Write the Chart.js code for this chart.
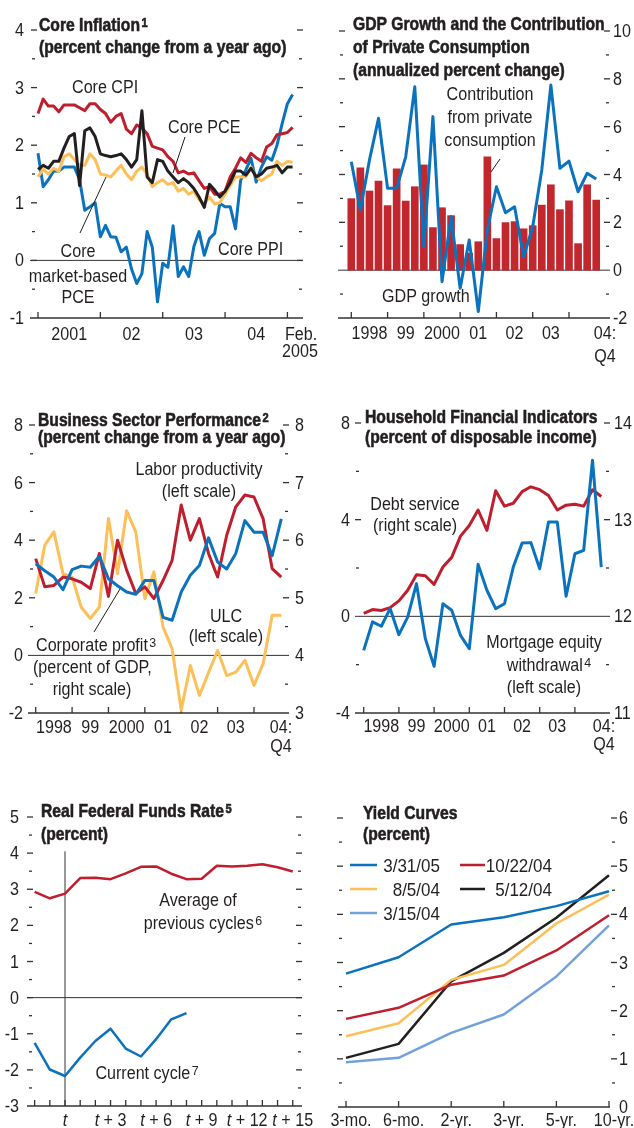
<!DOCTYPE html>
<html>
<head>
<meta charset="utf-8">
<script src="https://cdn.jsdelivr.net/npm/chart.js@4.4.1/dist/chart.umd.min.js"></script>
<style>
  html, body { margin: 0; padding: 0; background: #fff; }
  #wrap { position: relative; width: 634px; height: 1128px; overflow: hidden; }
  #wrap canvas { position: absolute; left: 0; top: 0; }
</style>
</head>
<body>
<div id="wrap">
  <canvas id="c1" width="634" height="1128"></canvas>
  <canvas id="c2" width="634" height="1128"></canvas>
  <canvas id="c3" width="634" height="1128"></canvas>
  <canvas id="c4" width="634" height="1128"></canvas>
  <canvas id="c5" width="634" height="1128"></canvas>
  <canvas id="c6" width="634" height="1128"></canvas>
</div>
<script>
// ---- data: core inflation, monthly Jan 2001 - Feb 2005 ----
const coreCPI = [2.55,2.8,2.68,2.68,2.58,2.7,2.7,2.7,2.65,2.6, 2.72,2.72,2.62,2.55,2.4,2.5,2.55,2.28,2.2,2.35, 2.3,2.2,1.98,1.95,1.92,1.8,1.72,1.52,1.55,1.5, 1.52,1.38,1.25,1.28,1.15,1.15,1.2,1.45,1.6,1.78, 1.7,1.86,1.78,1.72,1.97,2.03,2.18,2.2,2.22,2.31];
const corePCE = [1.58,1.65,1.6,1.72,1.72,1.95,2.15,2.2,1.3,2.25, 2.3,2.15,1.85,1.82,1.8,1.82,1.85,1.75,1.62,1.75, 2.6,1.45,1.35,1.75,1.72,1.55,1.45,1.35,1.42,1.35, 1.25,1.1,0.92,1.32,1.22,1.1,1.2,1.35,1.55,1.55, 1.48,1.6,1.45,1.5,1.6,1.62,1.65,1.52,1.62,1.62];
const coreMarketPCE = [1.45,1.58,1.5,1.6,1.55,1.8,1.85,1.75,1.65,1.65, 1.85,1.75,1.5,1.48,1.45,1.55,1.65,1.5,1.4,1.55, 1.62,1.5,1.28,1.35,1.4,1.32,1.35,1.2,1.25,1.15, 1.2,1.05,0.98,1.1,0.98,1.0,1.15,1.3,1.45,1.45, 1.45,1.62,1.45,1.38,1.45,1.5,1.72,1.65,1.72,1.7];
const corePPI = [1.86,1.28,1.4,1.55,1.55,1.62,1.62,1.62,1.4,0.87, 0.93,1.0,0.41,0.61,0.41,0.4,0.15,0.23,-0.15,-0.4, -0.23,0.5,0.23,-0.72,-0.05,-0.12,0.6,-0.28,-0.11,-0.28, 0.24,0.5,0.09,0.38,0.47,0.99,0.93,0.93,0.55,1.39, 1.57,1.77,1.36,1.62,1.8,1.74,2.0,2.38,2.72,2.88];
const inflYears = ["2001", "02", "03", "04"];
const inflYTicks = [4, 3, 2, 1, 0, -1];

// ---- GDP growth, quarterly 1998Q1 - 2004Q4 ----
const gdpContribution = [2.99,4.28,3.31,3.73,2.7,4.24,2.89,3.49,4.4,1.78,2.61,2.28,1.07,0.71,1.19,4.74,1.32,1.99,2.03,1.73,1.86,2.72,3.57,2.53,2.9,1.11,3.57,2.93];
const gdpGrowth = [4.53,2.52,4.6,6.35,3.42,3.42,4.74,7.67,0.98,6.42,-0.48,2.24,-0.76,1.26,-1.73,1.7,3.49,2.4,2.65,0.56,1.82,4.19,7.74,4.26,4.56,3.28,4.05,3.81];
const quarterYears = ["1998", "99", "2000", "01", "02", "03"];
const gdpYTicks = [10, 8, 6, 4, 2, 0, -2];

// ---- business sector ----
const laborProductivity = [3.36,2.38,2.43,2.72,2.66,2.54,2.32,3.54,2.05,4.0,2.96,2.15,2.38,1.97,2.6,3.3,5.22,4.0,4.75,3.54,2.72,4.17,5.16,5.57,5.5,4.75,3.01,2.72];
const ulc = [2.15,3.83,4.29,2.84,2.72,1.68,1.28,1.68,4.75,2.84,5.02,4.29,1.97,2.9,0.99,0.23,-1.9,-0.35,-1.39,-0.6,0.17,-0.7,-0.58,-0.17,-1.04,-0.29,1.39,1.39];
const corporateProfit = [5.59,5.47,5.36,5.14,5.49,5.55,5.53,5.72,5.33,5.21,5.1,5.06,5.3,5.3,4.66,4.61,5.1,5.39,5.56,6.04,5.62,5.5,5.77,6.34,6.14,6.14,5.73,6.37];
const bizLeftTicks = [8, 6, 4, 2, 0, -2];
const bizRightTicks = [8, 7, 6, 5, 4, 3];

// ---- household ----
const mortgageEquity = [-1.41,-0.23,-0.41,0.32,-0.76,-0.03,1.35,-0.92,-2.07,0.52,0.25,-0.79,-1.34,2.15,1.08,0.32,0.52,2.04,3.03,3.05,1.97,3.9,3.9,0.83,2.59,2.73,6.46,2.04];
const debtService = [12.03,12.07,12.06,12.09,12.16,12.27,12.43,12.42,12.33,12.51,12.61,12.83,12.94,13.1,12.89,13.3,13.14,13.17,13.29,13.34,13.31,13.25,13.1,13.15,13.16,13.14,13.31,13.24];
const hhLeftTicks = [8, 4, 0, -4];
const hhRightTicks = [14, 13, 12, 11];

// ---- real fed funds, t-2 .. t+15 ----
const prevCyclesAvg = [2.93,2.75,2.88,3.31,3.32,3.28,3.44,3.62,3.63,3.43,3.28,3.29,3.65,3.63,3.65,3.69,3.61,3.49];
const currentCycle = [-1.25,-1.99,-2.17,-1.66,-1.2,-0.86,-1.41,-1.63,-1.15,-0.6,-0.43];
const cycleLabels = [0, 3, 6, 9, 12, 15];
const ffrTicks = [5, 4, 3, 2, 1, 0, -1, -2, -3];

// ---- yield curves ----
const maturities = ["3-mo.", "6-mo.", "2-yr.", "3-yr.", "5-yr.", "10-yr."];
const yc033105 = [2.77,3.11,3.79,3.94,4.17,4.48];
const yc102204 = [1.83,2.06,2.54,2.73,3.25,3.98];
const yc080504 = [1.47,1.74,2.64,2.95,3.81,4.41];
const yc051204 = [1.02,1.31,2.61,3.2,3.93,4.81];
const yc031504 = [0.93,1.02,1.54,1.92,2.71,3.77];
const ycTicks = [6, 5, 4, 3, 2, 1, 0];

// Liberation Sans squeezed sideways stands in for the condensed face of the original
const FONT = '"Liberation Sans", Arial, sans-serif';
const INK = '#231f20';
const AX = '#333';
const BLUE = '#0b73bd', RED = '#be1e2d', YELLOW = '#fdbf57', BLACK = '#231f20', LBLUE = '#72a2d9';
const TS = 17.5, TSX = 0.92;  // label size / squeeze
const HS = 19, HSX = 0.825;   // title size / squeeze
const SUP = 13.5;

function fontOf(o, size) {
  return (o.italic ? 'italic ' : '') + (o.bold ? 'bold ' : '') + size + 'px ' + FONT;
}
function measure(ctx, s, o) {
  o = o || {};
  ctx.font = fontOf(o, o.size || TS);
  return ctx.measureText(s).width * (o.bold ? HSX : TSX);
}
function text(ctx, s, x, y, o) {
  o = o || {};
  const sx = o.bold ? HSX : TSX;
  const f = fontOf(o, o.size || TS);
  const fs = fontOf({ bold: o.bold }, SUP);
  ctx.font = f;
  const w = ctx.measureText(s).width * sx;
  let sw = 0;
  if (o.sup) { ctx.font = fs; sw = ctx.measureText(o.sup).width * sx + 1.5; }
  let x0 = x;
  if (o.align === 'center') x0 = x - (w + sw) / 2;
  if (o.align === 'right') x0 = x - w - sw;
  ctx.fillStyle = o.color || INK;
  ctx.strokeStyle = o.color || INK;
  ctx.lineWidth = 0.6;
  ctx.textAlign = 'left';
  ctx.textBaseline = 'alphabetic';
  ctx.save();
  ctx.translate(x0, y);
  ctx.scale(sx, 1);
  ctx.font = f;
  ctx.fillText(s, 0, 0);
  if (o.bold) ctx.strokeText(s, 0, 0);
  if (o.sup) {
    ctx.font = fs;
    ctx.fillText(o.sup, (w + 1.5) / sx, -4.5);
    if (o.bold) ctx.strokeText(o.sup, (w + 1.5) / sx, -4.5);
  }
  ctx.restore();
  return w + sw;
}
function seg(ctx, x1, y1, x2, y2, w, col) {
  ctx.beginPath();
  ctx.moveTo(x1, y1);
  ctx.lineTo(x2, y2);
  ctx.lineWidth = w || 1;
  ctx.strokeStyle = col || AX;
  ctx.stroke();
}
function range(a, b, step) {
  const out = [];
  for (let v = a; v <= b + 1e-9; v += step) out.push(+v.toFixed(4));
  return out;
}
function dashes(ctx, sc, vals, x1, x2) {
  vals.forEach(v => { const y = sc.getPixelForValue(v); seg(ctx, x1, y, x2, y, 1.3); });
}
function yLabels(ctx, sc, vals, x, align) {
  vals.forEach(v => text(ctx, String(v), x, sc.getPixelForValue(v) + 6, { align: align }));
}
function xTicks(ctx, sc, vals, yb) {
  vals.forEach(v => { const x = sc.getPixelForValue(v); seg(ctx, x, yb, x, yb - 6, 1.3); });
}
function hAxis(ctx, a, y, w) { seg(ctx, a.left, y, a.right, y, w || 1.5); }

function ser(vals, color, width, order, x0, axis) {
  return {
    type: 'line',
    data: vals.map((v, i) => ({ x: i + (x0 || 0), y: v })),
    borderColor: color, backgroundColor: color, borderWidth: width,
    pointRadius: 0, tension: 0, order: order, yAxisID: axis || 'y',
    borderJoinStyle: 'round', borderCapStyle: 'butt'
  };
}
function lin(min, max) { return { type: 'linear', min: min, max: max, offset: false, display: false }; }

function mk(id, area, scales, datasets, draw, type) {
  return new Chart(document.getElementById(id), {
    type: type || 'line',
    data: { datasets: datasets },
    options: {
      responsive: false, animation: false, devicePixelRatio: 1, events: [],
      layout: { padding: { left: area.l, top: area.t, right: 634 - area.r, bottom: 1128 - area.b } },
      scales: scales,
      plugins: { legend: { display: false }, tooltip: { enabled: false } }
    },
    plugins: [{
      id: 'chrome_' + id,
      beforeDatasetsDraw(c) { c.ctx.save(); draw.before(c); c.ctx.restore(); },
      afterDatasetsDraw(c) { c.ctx.save(); draw.after(c); c.ctx.restore(); }
    }]
  });
}

// ---------- 1. Core inflation ----------
mk('c1', { l: 30, r: 303, t: 30, b: 318 },
  { x: lin(-1.54, 51.0), y: lin(-1, 4) },
  [
    ser(corePPI, BLUE, 3, 4),
    ser(coreCPI, RED, 3, 3),
    ser(coreMarketPCE, YELLOW, 3, 2),
    ser(corePCE, BLACK, 3, 1)
  ],
  {
    before(c) {
      const ctx = c.ctx, a = c.chartArea, x = c.scales.x, y = c.scales.y;
      seg(ctx, a.left, y.getPixelForValue(0), a.right, y.getPixelForValue(0), 1, AX);
      hAxis(ctx, a, a.bottom);
      xTicks(ctx, x, [0, 12, 24, 36, 48], a.bottom);
      dashes(ctx, y, [0, 1, 2, 3, 4], a.left + 1, a.left + 7);
      dashes(ctx, y, range(-0.5, 3.5, 1), a.left + 2, a.left + 5);
      dashes(ctx, y, [0, 1, 2, 3, 4], a.right - 6, a.right);
      dashes(ctx, y, range(-0.5, 3.5, 1), a.right - 4, a.right - 1);
    },
    after(c) {
      const ctx = c.ctx, x = c.scales.x, y = c.scales.y;
      yLabels(ctx, y, inflYTicks, 24, 'right');
      inflYears.forEach((s, i) => text(ctx, s, x.getPixelForValue(6 + 12 * i), 340, { align: 'center' }));
      text(ctx, 'Feb.', 301, 340, { align: 'center' });
      text(ctx, '2005', 300, 357, { align: 'center' });
      text(ctx, 'Core Inflation', 39, 31, { bold: true, size: HS, sup: '1' });
      text(ctx, '(percent change from a year ago)', 39, 53, { bold: true, size: HS });
      text(ctx, 'Core CPI', 72, 93);
      text(ctx, 'Core PCE', 168, 133);
      seg(ctx, 185, 137, 173, 173, 1, INK);
      text(ctx, 'Core', 78, 257, { align: 'center' });
      text(ctx, 'market-based', 78, 282, { align: 'center' });
      text(ctx, 'PCE', 78, 303, { align: 'center' });
      seg(ctx, 80, 233, 106, 177, 1, INK);
      text(ctx, 'Core PPI', 218, 255);
    }
  });

// ---------- 2. GDP growth ----------
mk('c2', { l: 338, r: 610, t: 31, b: 318 },
  { x: lin(-1.466, 28.52), y: lin(-2, 10) },
  [
    ser(gdpGrowth, BLUE, 3, 1),
    {
      type: 'bar',
      data: gdpContribution.map((v, i) => ({ x: i, y: v })),
      backgroundColor: '#c1272d', borderWidth: 0, barThickness: 7, order: 2, yAxisID: 'y'
    }
  ],
  {
    before(c) {
      const ctx = c.ctx, a = c.chartArea, x = c.scales.x, y = c.scales.y;
      seg(ctx, a.left, y.getPixelForValue(0), a.right, y.getPixelForValue(0), 1, AX);
      hAxis(ctx, a, a.bottom);
      xTicks(ctx, x, [0, 4, 8, 12, 16, 20, 24], a.bottom);
      dashes(ctx, y, [2, 4, 6, 8, 10], a.left + 1, a.left + 7);
      dashes(ctx, y, range(-1, 9, 2), a.left + 2, a.left + 5);
      dashes(ctx, y, [2, 4, 6, 8, 10], a.right - 6, a.right);
      dashes(ctx, y, range(-1, 9, 2), a.right - 4, a.right - 1);
    },
    after(c) {
      const ctx = c.ctx, x = c.scales.x, y = c.scales.y;
      yLabels(ctx, y, gdpYTicks, 613, 'left');
      quarterYears.forEach((s, i) => text(ctx, s, x.getPixelForValue(2 + 4 * i), 339, { align: 'center' }));
      text(ctx, '04:', 605, 339, { align: 'center' });
      text(ctx, 'Q4', 605, 362, { align: 'center' });
      text(ctx, 'GDP Growth and the Contribution', 353, 30, { bold: true, size: HS });
      text(ctx, 'of Private Consumption', 353, 53, { bold: true, size: HS });
      text(ctx, '(annualized percent change)', 353, 76, { bold: true, size: HS });
      text(ctx, 'Contribution', 490, 100, { align: 'center' });
      text(ctx, 'from private', 490, 123, { align: 'center' });
      text(ctx, 'consumption', 490, 146, { align: 'center' });
      seg(ctx, 500, 159, 491, 172, 1, INK);
      text(ctx, 'GDP growth', 382, 302);
    }
  }, 'bar');

// ---------- 3. Business sector ----------
mk('c3', { l: 28, r: 289, t: 425, b: 713 },
  { x: lin(-0.846, 27.85), y: lin(-2, 8), y2: lin(3, 8) },
  [
    ser(ulc, YELLOW, 3, 3),
    ser(laborProductivity, RED, 3, 2),
    ser(corporateProfit, BLUE, 3, 1, 0, 'y2')
  ],
  {
    before(c) {
      const ctx = c.ctx, a = c.chartArea, x = c.scales.x, y = c.scales.y, y2 = c.scales.y2;
      seg(ctx, a.left, y.getPixelForValue(0), a.right, y.getPixelForValue(0), 1, AX);
      hAxis(ctx, a, a.bottom);
      xTicks(ctx, x, [0, 4, 8, 12, 16, 20, 24], a.bottom);
      dashes(ctx, y, [2, 4, 6, 8], a.left + 1, a.left + 7);
      dashes(ctx, y, range(-1, 7, 2), a.left + 2, a.left + 5);
      dashes(ctx, y2, [5, 6, 7, 8], a.right - 6, a.right);
      dashes(ctx, y2, range(3.5, 7.5, 1), a.right - 4, a.right - 1);
    },
    after(c) {
      const ctx = c.ctx, x = c.scales.x, y = c.scales.y, y2 = c.scales.y2;
      yLabels(ctx, y, bizLeftTicks, 23, 'right');
      yLabels(ctx, y2, bizRightTicks, 295, 'left');
      quarterYears.forEach((s, i) => text(ctx, s, x.getPixelForValue(2 + 4 * i), 733, { align: 'center' }));
      text(ctx, '04:', 281, 733, { align: 'center' });
      text(ctx, 'Q4', 281, 752, { align: 'center' });
      text(ctx, 'Business Sector Performance', 38, 426, { bold: true, size: HS, sup: '2' });
      text(ctx, '(percent change from a year ago)', 38, 443, { bold: true, size: HS });
      text(ctx, 'Labor productivity', 199, 475, { align: 'center' });
      text(ctx, '(left scale)', 199, 497, { align: 'center' });
      text(ctx, 'ULC', 226, 622, { align: 'center' });
      text(ctx, '(left scale)', 226, 642, { align: 'center' });
      text(ctx, 'Corporate profit', 36, 651, { sup: '3' });
      text(ctx, '(percent of GDP,', 33, 673);
      text(ctx, 'right scale)', 92, 695, { align: 'center' });
      seg(ctx, 94, 632, 120, 589, 1, INK);
    }
  });

// ---------- 4. Household ----------
mk('c4', { l: 355, r: 610, t: 423, b: 713 },
  { x: lin(-0.989, 27.99), y: lin(-4, 8), y2: lin(11, 14) },
  [
    ser(mortgageEquity, BLUE, 3, 1),
    ser(debtService, RED, 3, 2, 0, 'y2')
  ],
  {
    before(c) {
      const ctx = c.ctx, a = c.chartArea, x = c.scales.x, y = c.scales.y, y2 = c.scales.y2;
      seg(ctx, a.left, y.getPixelForValue(0), a.right, y.getPixelForValue(0), 1, AX);
      hAxis(ctx, a, a.bottom);
      xTicks(ctx, x, [0, 4, 8, 12, 16, 20, 24], a.bottom);
      dashes(ctx, y, [4, 8], a.left, a.left + 6);
      dashes(ctx, y, [-2, 2, 6], a.left + 1, a.left + 4);
      dashes(ctx, y2, [13, 14], a.right - 6, a.right);
      dashes(ctx, y2, [11.5, 12.5, 13.5], a.right - 4, a.right - 1);
    },
    after(c) {
      const ctx = c.ctx, x = c.scales.x, y = c.scales.y, y2 = c.scales.y2;
      yLabels(ctx, y, hhLeftTicks, 350, 'right');
      yLabels(ctx, y2, hhRightTicks, 614, 'left');
      quarterYears.forEach((s, i) => text(ctx, s, x.getPixelForValue(2 + 4 * i), 732, { align: 'center' }));
      text(ctx, '04:', 604, 732, { align: 'center' });
      text(ctx, 'Q4', 604, 750, { align: 'center' });
      text(ctx, 'Household Financial Indicators', 365, 423, { bold: true, size: HS });
      text(ctx, '(percent of disposable income)', 365, 443, { bold: true, size: HS });
      text(ctx, 'Debt service', 415, 510, { align: 'center' });
      text(ctx, '(right scale)', 415, 531, { align: 'center' });
      text(ctx, 'Mortgage equity', 544, 648, { align: 'center' });
      text(ctx, 'withdrawal', 549, 671, { align: 'center', sup: '4' });
      text(ctx, '(left scale)', 544, 693, { align: 'center' });
    }
  });

// ---------- 5. Real federal funds rate ----------
mk('c5', { l: 27, r: 302, t: 817, b: 1106 },
  { x: lin(-2.503, 15.61), y: lin(-3, 5) },
  [
    ser(prevCyclesAvg, RED, 2.5, 2, -2),
    ser(currentCycle, BLUE, 2.5, 1, -2)
  ],
  {
    before(c) {
      const ctx = c.ctx, a = c.chartArea, x = c.scales.x, y = c.scales.y;
      seg(ctx, a.left, y.getPixelForValue(0), a.right, y.getPixelForValue(0), 1, AX);
      seg(ctx, x.getPixelForValue(0), y.getPixelForValue(4.05), x.getPixelForValue(0), a.bottom, 1, AX);
      hAxis(ctx, a, a.bottom);
      xTicks(ctx, x, range(-2, 15, 1), a.bottom);
      dashes(ctx, y, range(-2, 5, 1), a.left, a.left + 6);
      dashes(ctx, y, range(-2.5, 4.5, 1), a.left + 2, a.left + 5);
      dashes(ctx, y, range(-2, 5, 1), a.right - 6, a.right);
      dashes(ctx, y, range(-2.5, 4.5, 1), a.right - 4, a.right - 1);
    },
    after(c) {
      const ctx = c.ctx, x = c.scales.x, y = c.scales.y;
      yLabels(ctx, y, ffrTicks, 19, 'right');
      cycleLabels.forEach(k => {
        const cx = x.getPixelForValue(k);
        const rest = k === 0 ? '' : ' + ' + k;
        const w1 = measure(ctx, 't', { italic: true });
        const w2 = rest ? measure(ctx, rest) : 0;
        const x0 = cx - (w1 + w2) / 2;
        text(ctx, 't', x0, 1126, { italic: true });
        if (rest) text(ctx, rest, x0 + w1, 1126);
      });
      text(ctx, 'Real Federal Funds Rate', 41, 817, { bold: true, size: HS, sup: '5' });
      text(ctx, '(percent)', 41, 840, { bold: true, size: HS });
      text(ctx, 'Average of', 198, 906, { align: 'center' });
      text(ctx, 'previous cycles', 203, 929, { align: 'center', sup: '6' });
      text(ctx, 'Current cycle', 147, 1079, { align: 'center', sup: '7' });
    }
  });

// ---------- 6. Yield curves ----------
const ycSeries = [
  { label: '3/31/05', vals: yc033105, color: BLUE },
  { label: '10/22/04', vals: yc102204, color: RED },
  { label: '8/5/04', vals: yc080504, color: YELLOW },
  { label: '5/12/04', vals: yc051204, color: BLACK },
  { label: '3/15/04', vals: yc031504, color: LBLUE }
];
mk('c6', { l: 338, r: 610, t: 818, b: 1107 },
  { x: lin(-0.152, 5.019), y: lin(0, 6) },
  ycSeries.map((s, i) => ser(s.vals, s.color, 2.5, i + 1)),
  {
    before(c) {
      const ctx = c.ctx, a = c.chartArea, x = c.scales.x, y = c.scales.y;
      hAxis(ctx, a, a.bottom);
      xTicks(ctx, x, [0, 1, 2, 3, 4, 5], a.bottom);
      dashes(ctx, y, range(1, 6, 1), a.left - 1, a.left + 5);
      dashes(ctx, y, range(0.5, 5.5, 1), a.left + 1, a.left + 4);
      dashes(ctx, y, range(1, 6, 1), a.right + 1, a.right + 7);
      dashes(ctx, y, range(0.5, 5.5, 1), a.right + 2, a.right + 5);
    },
    after(c) {
      const ctx = c.ctx, x = c.scales.x, y = c.scales.y;
      yLabels(ctx, y, ycTicks, 619, 'left');
      maturities.forEach((s, j) => text(ctx, s, x.getPixelForValue(j) + 5, 1126, { align: 'center' }));
      text(ctx, 'Yield Curves', 363, 819, { bold: true, size: HS });
      text(ctx, '(percent)', 363, 840, { bold: true, size: HS });
      // legend
      const slots = [
        { s: 0, sx: 350, ex: 377, tx: 440, ly: 865 },
        { s: 1, sx: 460, ex: 485, tx: 552, ly: 865 },
        { s: 2, sx: 350, ex: 377, tx: 440, ly: 889 },
        { s: 3, sx: 460, ex: 485, tx: 552, ly: 889 },
        { s: 4, sx: 350, ex: 377, tx: 440, ly: 913 }
      ];
      slots.forEach(p => {
        const s = ycSeries[p.s];
        seg(ctx, p.sx, p.ly, p.ex, p.ly, 2.5, s.color);
        text(ctx, s.label, p.tx, p.ly + 6.5, { align: 'right', size: 18.5 });
      });
    }
  });
</script>
</body>
</html>
